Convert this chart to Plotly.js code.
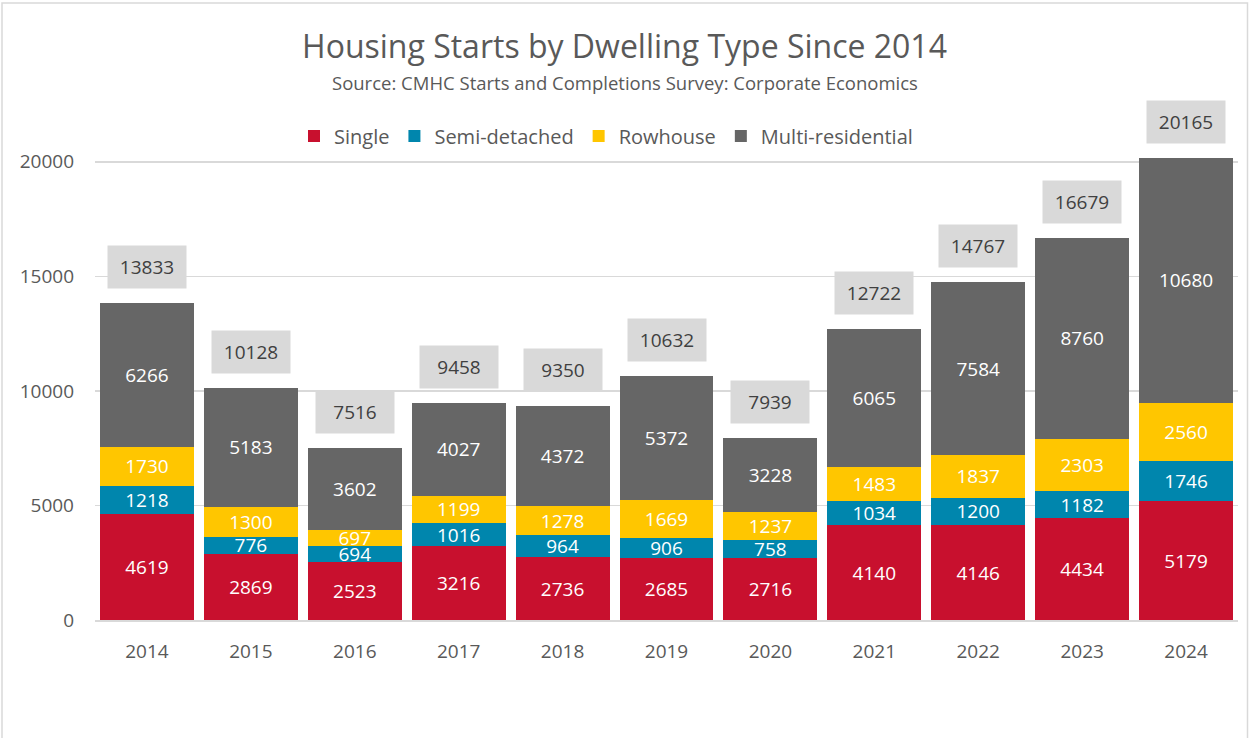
<!DOCTYPE html>
<html>
<head>
<meta charset="utf-8">
<script src="https://cdn.plot.ly/plotly-3.0.1.min.js"></script>
<style>
  html, body { margin: 0; padding: 0; background: #ffffff; }
  #chart { width: 1249px; height: 738px; }
</style>
</head>
<body>
<div id="chart"></div>
<script>
const years = ["2014","2015","2016","2017","2018","2019","2020","2021","2022","2023","2024"];
const single = [4619, 2869, 2523, 3216, 2736, 2685, 2716, 4140, 4146, 4434, 5179];
const semiDetached = [1218, 776, 694, 1016, 964, 906, 758, 1034, 1200, 1182, 1746];
const rowhouse = [1730, 1300, 697, 1199, 1278, 1669, 1237, 1483, 1837, 2303, 2560];
const multiResidential = [6266, 5183, 3602, 4027, 4372, 5372, 3228, 6065, 7584, 8760, 10680];
const totals = [13833, 10128, 7516, 9458, 9350, 10632, 7939, 12722, 14767, 16679, 20165];
const yTicks = [0, 5000, 10000, 15000, 20000];

const FONT = "Open Sans, Noto Sans, sans-serif";

function series(name, values, color) {
  return {
    type: "bar",
    name: name,
    x: years,
    y: values,
    marker: { color: color, line: { width: 0 } },
    text: values.map(String),
    textposition: "inside",
    insidetextanchor: "middle",
    textangle: 0,
    constraintext: "none",
    textfont: { family: FONT, size: 19, color: "#ffffff" },
    hoverinfo: "skip"
  };
}

const data = [
  series("Single", single, "#C8102E"),
  series("Semi-detached", semiDetached, "#0086AD"),
  series("Rowhouse", rowhouse, "#FFC600"),
  series("Multi-residential", multiResidential, "#666666")
];

// category axis: annotations use the category index
const totalAnnotations = years.map((yr, i) => ({
  x: i,
  y: totals[i],
  xref: "x",
  yref: "y",
  text: String(totals[i]),
  showarrow: false,
  yanchor: "bottom",
  yshift: 14,
  bgcolor: "#D9D9D9",
  borderpad: 8,
  width: 62,
  font: { family: FONT, size: 19, color: "#404040" }
}));

const layout = {
  width: 1249,
  height: 738,
  paper_bgcolor: "#ffffff",
  plot_bgcolor: "#ffffff",
  barmode: "stack",
  bargap: 0.096,
  margin: { l: 95, r: 11, t: 116, b: 118 },
  font: { family: FONT, color: "#595959" },
  title: {
    text: "Housing Starts by Dwelling Type Since 2014",
    font: { family: FONT, size: 32, color: "#595959" },
    x: 0.5,
    xanchor: "center",
    y: 1 - 47 / 738,
    yanchor: "middle",
    yref: "container"
  },
  showlegend: true,
  legend: {
    orientation: "h",
    x: (606 - 95) / 1143,
    xanchor: "center",
    y: (620 - 136) / 504,
    yanchor: "middle",
    font: { family: FONT, size: 20, color: "#595959" },
    traceorder: "normal",
    itemclick: false,
    itemdoubleclick: false
  },
  xaxis: {
    type: "category",
    range: [-0.5, years.length - 0.5],
    tickfont: { family: FONT, size: 19, color: "#595959" },
    showgrid: false,
    showline: true,
    linecolor: "#D9D9D9",
    linewidth: 1.5,
    ticks: "",
    ticklabelstandoff: 14,
    fixedrange: true
  },
  yaxis: {
    range: [0, 22000],
    tickvals: yTicks,
    ticktext: yTicks.map(String),
    tickfont: { family: FONT, size: 19, color: "#595959" },
    showgrid: true,
    gridcolor: "#D9D9D9",
    gridwidth: 1.5,
    zeroline: false,
    showline: false,
    ticks: "",
    ticklabelstandoff: 20,
    fixedrange: true
  },
  annotations: [
    {
      text: "Source: CMHC Starts and Completions Survey: Corporate Economics",
      xref: "paper",
      yref: "paper",
      x: (625 - 95) / 1143,
      y: (620 - 82) / 504,
      xanchor: "center",
      yanchor: "middle",
      showarrow: false,
      font: { family: FONT, size: 18.5, color: "#595959" }
    }
  ].concat(totalAnnotations),
  shapes: [
    {
      type: "rect",
      xref: "paper",
      yref: "paper",
      x0: (2 - 95) / 1143,
      x1: (1247.5 - 95) / 1143,
      y0: (620 - 760) / 504,
      y1: (620 - 3) / 504,
      line: { color: "#D9D9D9", width: 1.5 },
      fillcolor: "rgba(0,0,0,0)",
      layer: "below"
    }
  ]
};

Plotly.newPlot("chart", data, layout, { displayModeBar: false, staticPlot: true });
</script>
</body>
</html>
